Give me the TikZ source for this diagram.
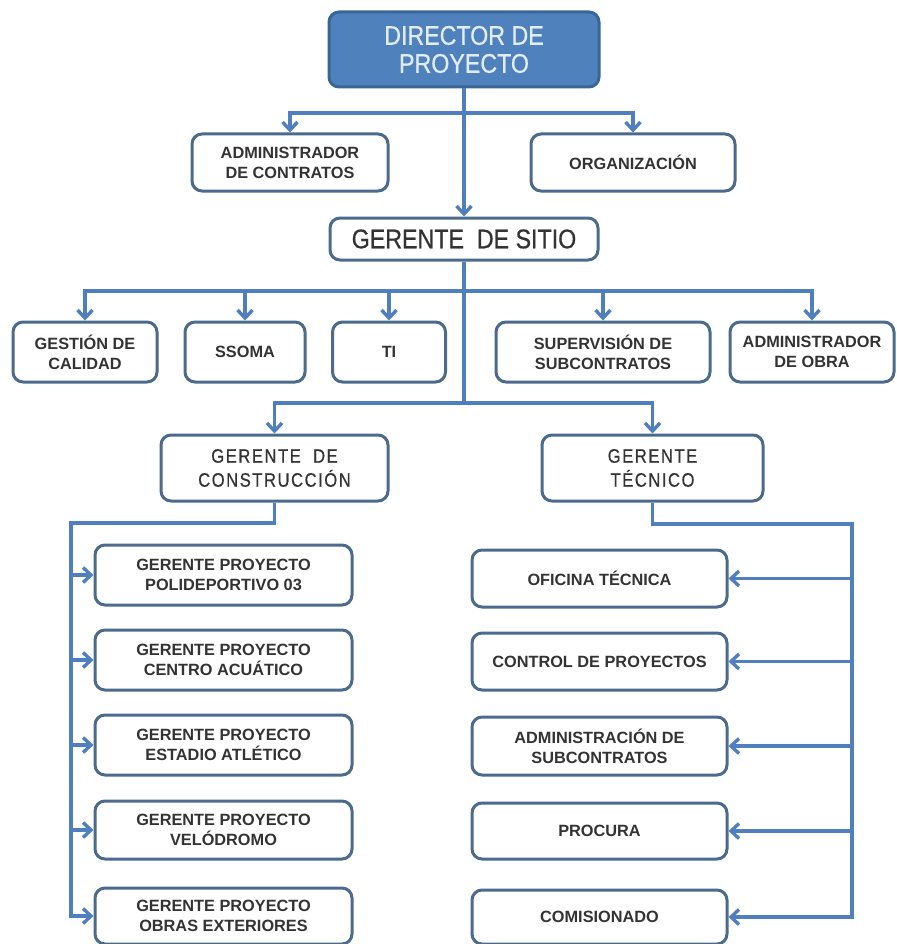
\documentclass[tikz,border=0pt]{standalone}
\usepackage{fontspec}
\setmainfont{Liberation Sans}
\newfontfamily\narrowfont[FakeStretch=0.86,FakeBold=0.6]{Liberation Sans}
\newfontfamily\spacedfont[FakeStretch=0.85,LetterSpace=8,FakeBold=0.5]{Liberation Sans}
\usetikzlibrary{arrows.meta}
\definecolor{linkblue}{HTML}{4F7FBE}
\definecolor{boxedge}{HTML}{4C6A8C}
\definecolor{boxtext}{HTML}{333333}
\definecolor{headfill}{HTML}{4F81BD}
\definecolor{headedge}{HTML}{3A6597}
\definecolor{headtext}{HTML}{E2ECF7}
\begin{document}
\begin{tikzpicture}[x=1pt,y=-1pt,
  box/.style={draw=boxedge, line width=3pt, rounded corners=10pt, fill=white,
    align=center, text=boxtext, inner sep=0pt,
    font=\bfseries\fontsize{16.3}{20}\selectfont},
  headbox/.style={box, fill=headfill, draw=headedge, text=headtext,
    font=\narrowfont\fontsize{27}{28}\selectfont},
  bigbox/.style={box, font=\narrowfont\fontsize{27}{28}\selectfont},
  midbox/.style={box, font=\spacedfont\fontsize{19.5}{24}\selectfont},
  conn/.style={draw=linkblue, line width=3.4pt},
  tip/.style={-{Straight Barb[length=8pt,width=15pt]}}]

\useasboundingbox (0,0) rectangle (896,944);

% top of the chart
\node[headbox, minimum width=270, minimum height=75] (dir) at (464,49.5) {DIRECTOR DE\\PROYECTO};
\node[box, minimum width=196, minimum height=57] (adm) at (290,162.5) {ADMINISTRADOR\\DE CONTRATOS};
\node[box, minimum width=204, minimum height=57] (org) at (633,162.5) {ORGANIZACIÓN};
\node[bigbox, minimum width=268, minimum height=42] (sitio) at (464,239) {GERENTE\ \ DE SITIO};

% support areas under the site manager
\node[box, minimum width=144, minimum height=60] (ges) at (85,352) {GESTIÓN DE\\CALIDAD};
\node[box, minimum width=120, minimum height=60] (sso) at (245,352) {SSOMA};
\node[box, minimum width=113, minimum height=60] (ti) at (389,352) {TI};
\node[box, minimum width=214, minimum height=60] (sup) at (603,352) {SUPERVISIÓN DE\\SUBCONTRATOS};
\node[box, minimum width=164, minimum height=60] (aob) at (812,352) {ADMINISTRADOR\\DE OBRA};

% construction and technical managers
\node[midbox, minimum width=227, minimum height=66] (gc) at (274.5,468) {GERENTE\ \ DE\\CONSTRUCCIÓN};
\node[midbox, minimum width=221, minimum height=66] (gt) at (652.5,468) {GERENTE\\TÉCNICO};

% project managers
\node[box, minimum width=257, minimum height=60] (l1) at (223.5,575) {GERENTE PROYECTO\\POLIDEPORTIVO 03};
\node[box, minimum width=257, minimum height=60] (l2) at (223.5,660) {GERENTE PROYECTO\\CENTRO ACUÁTICO};
\node[box, minimum width=257, minimum height=60] (l3) at (223.5,745) {GERENTE PROYECTO\\ESTADIO ATLÉTICO};
\node[box, minimum width=257, minimum height=58] (l4) at (223.5,830) {GERENTE PROYECTO\\VELÓDROMO};
\node[box, minimum width=257, minimum height=56] (l5) at (223.5,916) {GERENTE PROYECTO\\OBRAS EXTERIORES};

% technical office units
\node[box, minimum width=255, minimum height=57] (r1) at (599.5,578.5) {OFICINA TÉCNICA};
\node[box, minimum width=255, minimum height=57] (r2) at (599.5,661.5) {CONTROL DE PROYECTOS};
\node[box, minimum width=255, minimum height=58] (r3) at (599.5,746) {ADMINISTRACIÓN DE\\SUBCONTRATOS};
\node[box, minimum width=255, minimum height=56] (r4) at (599.5,831) {PROCURA};
\node[box, minimum width=255, minimum height=54] (r5) at (599.5,917) {COMISIONADO};

% junction points
\coordinate (j1) at (464,113);
\coordinate (j2) at (464,291);
\coordinate (j3) at (464,403);
\coordinate (lt) at (71,523);
\coordinate (rt) at (852,524);

% connectors
\draw[conn,tip] (dir.south) -- (sitio.north);
\draw[conn,tip] (j1) -| (adm.north);
\draw[conn,tip] (j1) -| (org.north);

\draw[conn] (sitio.south) -- (j3);
\foreach \b in {ges,sso,ti,sup,aob}
  \draw[conn,tip] (j2) -| (\b.north);
\draw[conn,tip] (j3) -| (gc.north);
\draw[conn,tip] (j3) -| (gt.north);

\draw[conn,tip] (gc.south) |- (lt) |- (l5.west);
\foreach \b in {l1,l2,l3,l4}
  \draw[conn,tip] (lt |- \b.west) -- (\b.west);

\draw[conn,tip] (gt.south) |- (rt) |- (r5.east);
\foreach \b in {r1,r2,r3,r4}
  \draw[conn,tip] (rt |- \b.east) -- (\b.east);
\end{tikzpicture}
\end{document}
